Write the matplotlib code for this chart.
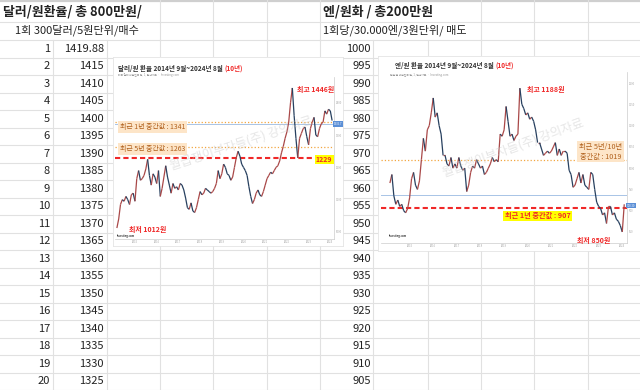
import matplotlib
matplotlib.use('Agg')
import matplotlib.pyplot as plt
import matplotlib.transforms as mtransforms
from matplotlib.collections import LineCollection
import numpy as np

plt.rcParams['font.family'] = ['Noto Sans CJK KR', 'DejaVu Sans']

# ---- spreadsheet cells ----
usd_title = '달러/원환율/ 총 800만원/'
usd_note = '1회 300달러/5원단위/매수'
jpy_title = '엔/원화 / 총200만원'
jpy_note = '1회당/30.000엔/3원단위/ 매도'
row_no = [1, 2, 3, 4, 5, 6, 7, 8, 9, 10, 11, 12, 13, 14, 15, 16, 17, 18, 19, 20]
usd_levels = ['1419.88', '1415', '1410', '1405', '1400', '1395', '1390', '1385', '1380', '1375',
              '1370', '1365', '1360', '1355', '1350', '1345', '1340', '1335', '1330', '1325']
jpy_levels = ['1000', '995', '990', '985', '980', '975', '970', '965', '960', '955',
              '950', '945', '940', '935', '930', '925', '920', '915', '910', '905']

# ---- monthly closes, 2014-09 .. 2024-08 ----
usd_krw = [1012, 1040, 1085, 1100,
           1095, 1110, 1100, 1085, 1115, 1120, 1095, 1165, 1190, 1160, 1165, 1175,
           1195, 1225, 1175, 1145, 1180, 1170, 1150, 1190, 1110, 1135, 1170, 1205,
           1170, 1145, 1120, 1150, 1135, 1140, 1130, 1150, 1145, 1130, 1105, 1075,
           1070, 1090, 1065, 1060, 1075, 1100, 1125, 1115, 1120, 1135, 1130, 1125,
           1120, 1125, 1135, 1150, 1190, 1165, 1180, 1210, 1200, 1180, 1175, 1160,
           1170, 1200, 1230, 1250, 1235, 1210, 1200, 1190, 1175, 1140, 1110, 1088,
           1100, 1120, 1130, 1115, 1110, 1125, 1145, 1165, 1175, 1185, 1180, 1190,
           1200, 1205, 1220, 1245, 1265, 1290, 1310, 1340, 1400, 1446, 1360, 1290,
           1229, 1290, 1305, 1320, 1325, 1295, 1270, 1320, 1340, 1355, 1300, 1295,
           1320, 1335, 1340, 1375, 1365, 1380, 1375, 1345]
jpy_krw = [965, 985, 935, 915,
           925, 910, 915, 900, 895, 905, 930, 975, 990, 960, 950, 970,
           1020, 1070, 1040, 1090, 1100, 1130, 1165, 1120, 1130, 1100, 1080, 1030,
           1030, 1010, 1005, 1025, 1000, 1010, 1000, 1025, 1005, 995, 1000, 945,
           960, 990, 1005, 1000, 1020, 1010, 1000, 1005, 985, 990, 1000, 1010,
           1025, 1015, 1020, 1015, 1080, 1075, 1090, 1145, 1110, 1075, 1080, 1065,
           1075, 1080, 1188, 1150, 1140, 1125, 1130, 1115, 1120, 1110, 1090, 1060,
           1060, 1045, 1030, 1035, 1040, 1035, 1040, 1050, 1060, 1030, 1045, 1030,
           1040, 1040, 1035, 995, 985, 955, 960, 975, 990, 965, 985, 960,
           955, 950, 990, 985, 950, 920, 910, 905, 890, 895, 870, 910,
           910, 890, 895, 880, 875, 865, 850, 915]
months = 2014 + 8 / 12 + np.arange(len(usd_krw)) / 12

usd_high, usd_low = 1446, 1012
usd_med_1y, usd_med_5y, usd_floor, usd_now = 1341, 1263, 1229, 1334
jpy_high, jpy_low = 1188, 850
jpy_med_5y, jpy_med_1y, jpy_now = 1019, 907, 937

W, H = 640, 390
fig = plt.figure(figsize=(6.4, 3.9), dpi=100)


def px_box(x0, y0, x1, y1):
    return [x0 / W, 1 - y1 / H, (x1 - x0) / W, (y1 - y0) / H]


# ---- sheet grid and cell text ----
sheet = fig.add_axes([0, 0, 1, 1])
sheet.set_xlim(0, W)
sheet.set_ylim(H, 0)
sheet.axis('off')
grid_c = '#e1e1e1'
row_top, row_h = 40, 17.5
sheet.axhline(0.8, color='#cfcfcf', lw=1.6)
sheet.axhline(21.5, color=grid_c, lw=0.8)
for k in range(len(row_no) + 1):
    sheet.axhline(row_top + k * row_h, color=grid_c, lw=0.8)
for x in [53, 107, 160, 213, 267, 320, 373, 428, 481, 534, 588]:
    sheet.plot([x, x], [row_top, H], color=grid_c, lw=0.8)
for x in [160, 213, 267, 320, 481, 534, 588]:
    sheet.plot([x, x], [0, row_top], color=grid_c, lw=0.8)

txt_c = '#222222'
sheet.text(3, 11, usd_title, fontsize=9.3, fontweight='bold', color=txt_c, va='center')
sheet.text(323, 11, jpy_title, fontsize=9.3, fontweight='bold', color=txt_c, va='center')
sheet.text(15, 30.5, usd_note, fontsize=8, color=txt_c, va='center')
sheet.text(323, 30.5, jpy_note, fontsize=8, color=txt_c, va='center')
for k, (n, u, j) in enumerate(zip(row_no, usd_levels, jpy_levels)):
    yc = row_top + (k + 0.5) * row_h
    sheet.text(50, yc, str(n), fontsize=8, color=txt_c, ha='right', va='center')
    sheet.text(104, yc, u, fontsize=8, color=txt_c, ha='right', va='center')
    sheet.text(371, yc, j, fontsize=8, color=txt_c, ha='right', va='center')


def price_line(ax, t, v):
    pts = np.column_stack([t, v])
    segs = np.stack([pts[:-1], pts[1:]], axis=1)
    cols = np.where(np.diff(v) >= 0, '#a94848', '#27405f')
    ax.add_collection(LineCollection(segs, colors=cols, linewidths=0.9))


def chart_panel(box):
    p = fig.add_axes(box)
    p.set_xticks([])
    p.set_yticks([])
    for s in p.spines.values():
        s.set_color('#e4e4e4')
        s.set_linewidth(0.6)
    return p


def plot_area(ax, ylim, yticks):
    ax.set_ylim(*ylim)
    ax.yaxis.tick_right()
    ax.set_yticks(yticks)
    ax.set_xticks(np.arange(2015, 2025) + 0.5)
    ax.set_xticklabels([str(y) for y in range(2015, 2025)])
    ax.tick_params(labelsize=2, colors='#aaaaaa', length=0, pad=1)
    for s in ['top', 'left']:
        ax.spines[s].set_visible(False)
    for s in ['right', 'bottom']:
        ax.spines[s].set_color('#cccccc')
        ax.spines[s].set_linewidth(0.5)
    ax.patch.set_alpha(0)


def chart_title(x, y, main):
    t = fig.text(x / W, 1 - y / H, main, fontsize=4.7, fontweight='bold',
                 color='#333333', va='center')
    fig.canvas.draw()
    bb = t.get_window_extent()
    fig.text(bb.x1 / W + 0.002, 1 - y / H, '(10년)', fontsize=4.7, fontweight='bold',
             color=red, va='center')


brown = '#b0601c'
peach = '#fde5c8'
red = '#f02828'

# ---- USD/KRW chart ----
chart_panel(px_box(113, 57, 343, 246))
ax1 = fig.add_axes(px_box(115, 77, 334, 239))
plot_area(ax1, (978, 1480), [1000, 1100, 1200, 1300, 1400])
ax1.set_xlim(2014.58, 2024.67)
ax1.axhline(usd_now, color='#a8c4e6', lw=0.7)
ax1.axhline(usd_med_1y, color='#f2a640', lw=0.9, ls=':')
ax1.axhline(usd_med_5y, color='#f2a640', lw=0.9, ls=':')
ax1.axhline(usd_floor, color=red, lw=1.5, ls=(0, (2.5, 1.5)))
price_line(ax1, months, usd_krw)
chart_title(118, 68, '달러/원 환율 2014년 9월~2024년 8월')
fig.text(118 / W, 1 - 75 / H, '미국 달러 대한민국 원, 1, 일간차트  ·  Investing.com',
         fontsize=2, color='#999999', va='center')
ipk = usd_krw.index(usd_high)
ax1.text(months[ipk] + 0.22, usd_high - 4, f'최고 {usd_high}원', fontsize=5,
         fontweight='bold', color=red, va='center')
ax1.text(months[0] + 0.55, usd_low - 6, f'최저 {usd_low}원', fontsize=5,
         fontweight='bold', color=red, va='center')
ax1.text(2014.8, 1325, f'최근 1년 중간값 : {usd_med_1y}', fontsize=5, color=brown,
         va='center', bbox=dict(boxstyle='square,pad=0.25', fc=peach, ec='none'))
ax1.text(2014.8, 1257, f'최근 5년 중간값 : {usd_med_5y}', fontsize=5, color=brown,
         va='center', bbox=dict(boxstyle='square,pad=0.25', fc=peach, ec='none'))
ax1.text(2024.22, usd_floor - 6, str(usd_floor), fontsize=5, fontweight='bold',
         color=red, ha='center', va='center', zorder=5,
         bbox=dict(boxstyle='square,pad=0.15', fc='#ffff00', ec='none'))
ax1.text(2014.66, 988, 'Investing.com', fontsize=1.8, fontweight='bold', color='#333333',
         va='center')
tr1 = mtransforms.blended_transform_factory(ax1.transAxes, ax1.transData)
ax1.text(1.0, usd_now, '1335.7', transform=tr1, fontsize=2, color='white', va='center',
         bbox=dict(boxstyle='square,pad=0.3', fc='#5b8fd6', ec='none'), clip_on=False)

# ---- JPY/KRW chart ----
chart_panel(px_box(378, 56, 641, 251))
ax2 = fig.add_axes(px_box(381, 72, 627, 243))
plot_area(ax2, (824, 1226), [850, 900, 950, 1000, 1050, 1100, 1150, 1200])
ax2.set_xlim(2014.29, 2024.7)
ax2.axhline(jpy_now, color='#a8c4e6', lw=0.7)
ax2.axhline(jpy_med_5y, color='#f2a640', lw=0.9, ls=':')
ax2.axhline(jpy_med_1y, color=red, lw=1.5, ls=(0, (2.5, 1.5)))
price_line(ax2, months, jpy_krw)
chart_title(395, 65, '엔/원 환율 2014년 9월~2024년 8월')
fig.text(390 / W, 1 - 75 / H, '일본 엔 대한민국 원, 1, 일간차트  ·  Investing.com',
         fontsize=2, color='#999999', va='center')
jpk = jpy_krw.index(jpy_high)
ax2.text(months[jpk] + 0.3, jpy_high - 4, f'최고 {jpy_high}원', fontsize=5,
         fontweight='bold', color=red, va='center')
jlo = jpy_krw.index(jpy_low)
ax2.text(months[jlo] - 1.2, 829, f'최저 {jpy_low}원', fontsize=5,
         fontweight='bold', color=red, ha='center', va='center')
ax2.text(2023.57, 1039, f'최근 5년/10년\n중간값 : {jpy_med_5y}', fontsize=5.2, color=brown,
         ha='center', va='center', linespacing=1.3,
         bbox=dict(boxstyle='square,pad=0.25', fc=peach, ec='none'))
ax2.text(2020.91, 888, f'최근 1년 중간값 : {jpy_med_1y}', fontsize=5.2, color=red,
         fontweight='bold', ha='center', va='center',
         bbox=dict(boxstyle='square,pad=0.2', fc='#ffff00', ec='none'))
ax2.text(2014.6, 840, 'Investing.com', fontsize=1.8, fontweight='bold', color='#333333',
         va='center')
tr2 = mtransforms.blended_transform_factory(ax2.transAxes, ax2.transData)
ax2.text(1.0, 912, '918.30', transform=tr2, fontsize=2, color='white', va='center',
         bbox=dict(boxstyle='square,pad=0.3', fc='#5b8fd6', ec='none'), clip_on=False)

# ---- watermark ----
fig.text(241 / W, 1 - 143 / H, '월급쟁이부자들(주) 강의자료', fontsize=9, color='#c8c8c8',
         alpha=0.45, rotation=18, ha='center', va='center')
fig.text(513 / W, 1 - 148 / H, '월급쟁이부자들(주) 강의자료', fontsize=9, color='#c8c8c8',
         alpha=0.45, rotation=20, ha='center', va='center')

fig.savefig('out.png', dpi=100)
